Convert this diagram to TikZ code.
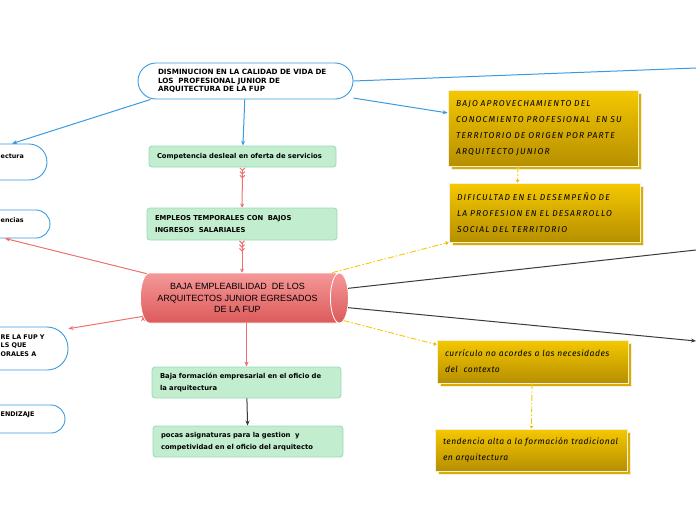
\documentclass[tikz,border=0pt]{standalone}
\usepackage{fontspec}
\setmainfont{DejaVu Sans}
\newfontfamily\arialfont{Liberation Sans}
\newfontfamily\handfont[LetterSpace=14]{Fira Sans}
\newfontfamily\handlowfont[LetterSpace=6]{Fira Sans}
\usetikzlibrary{arrows.meta, shapes.geometric, shadows, positioning}
\definecolor{mapblue}{HTML}{3A9BE0}
\definecolor{effectfill}{HTML}{C2EDCF}
\definecolor{effectline}{HTML}{9AD9B8}
\definecolor{causetop}{HTML}{F5C800}
\definecolor{causebottom}{HTML}{B68F00}
\definecolor{causeshadow}{HTML}{D9AE00}
\definecolor{causeline}{HTML}{F3EEDD}
\definecolor{coretop}{HTML}{F59898}
\definecolor{corebottom}{HTML}{DC5A5A}
\definecolor{linkred}{HTML}{F07070}
\definecolor{linkyellow}{HTML}{F5C800}
\definecolor{darkline}{HTML}{3A3A3A}
\tikzset{
  problem/.style={draw=mapblue, fill=white, line width=0.9pt, rounded corners=18pt, minimum height=36pt,
    inner xsep=20pt, text width=175pt, align=left, font=\bfseries\fontsize{7.2}{8.5}\selectfont},
  sidebox/.style={draw=mapblue, fill=white, line width=0.9pt},
  sidetext/.style={inner sep=0pt, align=left, font=\bfseries\fontsize{6.4}{8.5}\selectfont},
  effect/.style={draw=effectline, fill=effectfill, line width=0.8pt, rounded corners=3pt,
    inner xsep=8pt, align=left, font=\bfseries\fontsize{6.8}{12}\selectfont},
  cause/.style={draw=causeline, top color=causetop, bottom color=causebottom, line width=0.8pt,
    inner xsep=8pt, align=left, font=\handfont\itshape\fontsize{8.5}{16}\selectfont,
    general shadow={fill=causeshadow, draw=causeline, shadow xshift=3pt, shadow yshift=-3pt}},
  lowcause/.style={cause, font=\handlowfont\itshape\fontsize{8.5}{16}\selectfont},
  core/.style={cylinder, shape aspect=0.5, draw=white, line width=0.8pt, top color=coretop, bottom color=corebottom,
    minimum height=208pt, minimum width=50pt, align=center, font=\arialfont\fontsize{9}{11.5}\selectfont},
  bluelink/.style={draw=mapblue, line width=1pt},
  redlink/.style={draw=linkred, line width=1pt,
    arrows={Straight Barb[reversed,length=2.5pt,width=5pt] Straight Barb[reversed,length=2.5pt,width=5pt] Straight Barb[reversed,length=2.5pt,width=5pt]-Stealth[length=4pt,width=4pt]}},
  yellowlink/.style={draw=linkyellow, line width=0.9pt, dash pattern=on 6pt off 2pt on 1.5pt off 2pt},
  darklink/.style={draw=darkline, line width=1pt}
}

\begin{document}
\begin{tikzpicture}[x=1pt, y=-1pt]
	\useasboundingbox (0,0) rectangle (696,520);
	% centre
	\node[core] (empleab) at (237.5,298) {BAJA EMPLEABILIDAD\ \ DE LOS\\ARQUITECTOS JUNIOR EGRESADOS\\DE LA FUP};
	\node[problem] (calidad) at (245.5,81) {DISMINUCION EN LA CALIDAD DE VIDA DE\\LOS\ \ PROFESIONAL JUNIOR DE\\ARQUITECTURA DE LA FUP};
	% boxes cut by the left edge
	\node[sidebox, rounded corners=18pt, minimum width=87pt, minimum height=36pt] (arch) at (3.5,162) {};
	\node[sidebox, rounded corners=14pt, minimum width=90pt, minimum height=28pt] (compe) at (5,224) {};
	\node[sidebox, rounded corners=21pt, minimum width=108pt, minimum height=43pt] (fup) at (14,348.5) {};
	\node[sidebox, rounded corners=14pt, minimum width=105pt, minimum height=28pt] (aprend) at (12.5,419) {};
	\node[sidetext, anchor=base west] (archText) at (0.5,158) {ectura};
	\node[sidetext, anchor=base west] (compeText) at (0.5,222) {encias};
	\node[sidetext, anchor=west] (fupText) at (0.5,345.5) {RE LA FUP Y\\LS QUE\\ORALES A};
	\node[sidetext, anchor=base west] (aprendText) at (0.5,416.5) {ENDIZAJE};
	% effects
	\node[effect, minimum height=21pt, text width=171pt] (compet) at (242.5,156.5) {Competencia desleal en oferta de servicios};
	\node[effect, minimum height=32pt, text width=174pt] (empleos) at (242,224) {EMPLEOS TEMPORALES CON\ \ BAJOS\\INGRESOS\ \ SALARIALES};
	\node[effect, minimum height=31pt, text width=173pt] (formacion) at (246.5,382.5) {Baja formación empresarial en el oficio de\\la arquitectura};
	\node[effect, minimum height=31pt, text width=174pt] (asign) at (248,441.5) {pocas asignaturas para la gestion\ \ y\\competividad en el oficio del arquitecto};
	% causes
	\node[cause, minimum height=76pt, text width=174pt] (aprovecha) at (543,128) {BAJO APROVECHAMIENTO DEL\\CONOCMIENTO PROFESIONAL\ \ EN SU\\TERRITORIO DE ORIGEN POR PARTE\\ARQUITECTO JUNIOR};
	\node[cause, minimum height=59pt, text width=175pt] (dificultad) at (544.5,212.5) {DIFICULTAD EN EL DESEMPEÑO DE\\LA PROFESION EN EL DESARROLLO\\SOCIAL DEL TERRITORIO};
	\node[lowcause, minimum height=43pt, text width=175pt] (curriculo) at (532.5,361.5) {currículo no acordes a las necesidades\\del\ \ contexto};
	\node[lowcause, minimum height=42pt, text width=176pt] (tradicion) at (531,450) {tendencia alta a la formación tradicional\\en arquitectura};
	% free ends beyond the right edge
	\coordinate (outA) at (696,68);
	\coordinate (outB) at (696,250);
	\coordinate (outC) at (696,341);

	\path[bluelink]
		(calidad.east) edge (outA)
		(calidad) edge [-{Stealth[length=5pt,width=4pt]}] (aprovecha)
		(calidad.191) edge [-{Stealth[length=5pt,width=4pt]}] (arch.65)
		(calidad) edge [-{Stealth[length=5pt,width=4pt]}] (compet)
		;
	\path[redlink]
		(compet) edge (empleos)
		(empleos) edge (empleos.south |- empleab.north)
		;
	\path[draw=linkred, line width=1pt, -{Stealth[length=5pt,width=4pt]}]
		(formacion.north |- empleab.south) edge (formacion)
		(empleab.165) edge (compe.south)
		(empleab.191) edge (fup.20)
		;
	\path[darklink]
		(formacion) edge [-{Stealth[length=5pt,width=4pt]}] (asign)
		(empleab.5) edge (outB)
		(empleab.-5) edge [-{Stealth[length=5pt,width=4pt]}] (outC)
		;
	\path[yellowlink, -{Stealth[length=3pt,width=4pt]}]
		(empleab.15) edge (dificultad.south west)
		(empleab.-12) edge (curriculo.170)
		(aprovecha.-123) edge (dificultad.132)
		(curriculo) edge (tradicion)
		;
\end{tikzpicture}
\end{document}
